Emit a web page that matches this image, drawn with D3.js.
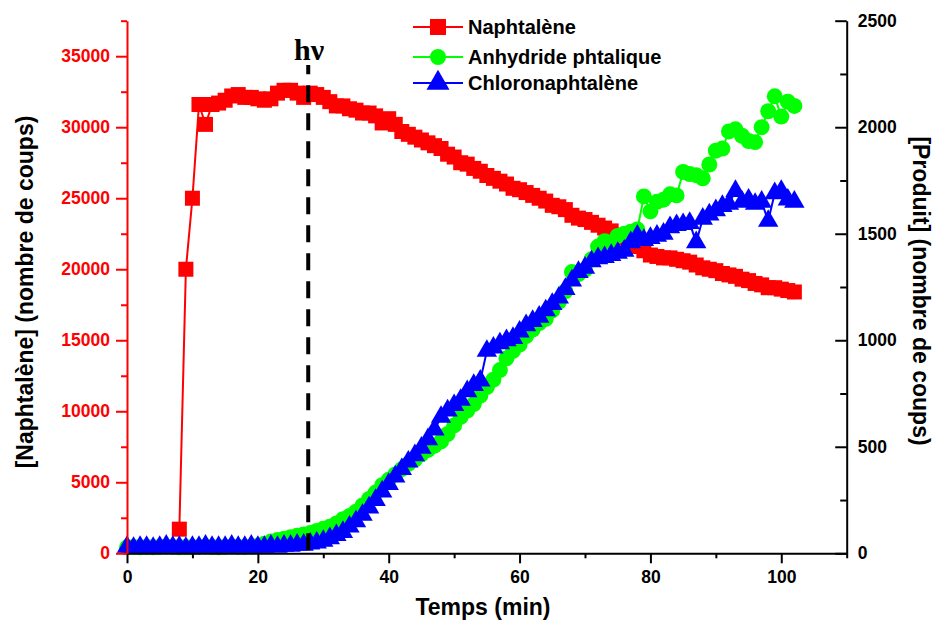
<!DOCTYPE html>
<html><head><meta charset="utf-8">
<script src="https://cdn.jsdelivr.net/npm/d3@7"></script>
<style>
html,body{margin:0;padding:0;background:#fff;}
svg{display:block;}
</style></head>
<body><svg id="chart" width="935" height="621"></svg>
<script>
// ---- Data ----
const timeNaph = [8,9,10,11,12,13,14,15,16,17,18,19,20,21,22,23,24,25,26,27,28,29,30,31,32,33,34,35,36,37,38,39,40,41,42,43,44,45,46,47,48,49,50,51,52,53,54,55,56,57,58,59,60,61,62,63,64,65,66,67,68,69,70,71,72,73,74,75,76,77,78,79,80,81,82,83,84,85,86,87,88,89,90,91,92,93,94,95,96,97,98,99,100,101,102];
const naphtalene = [1700,20000,25000,31600,30200,31600,31700,31900,32200,32300,32100,32100,32000,31900,32000,32400,32600,32600,32400,32100,32400,32300,32100,31800,31500,31500,31300,31200,31000,31000,30800,30300,30600,30200,29700,29500,29300,29100,28900,28700,28500,28100,27900,27500,27400,27100,26900,26600,26400,26200,26000,25700,25600,25400,25200,25000,24800,24500,24400,24200,23800,23600,23500,23300,23100,22900,22700,22400,22200,21900,21600,21300,21000,20900,20800,20800,20700,20600,20500,20300,20100,20000,19900,19700,19600,19500,19300,19200,19000,18900,18700,18700,18600,18500,18400];

const timeProd = [0,1,2,3,4,5,6,7,8,9,10,11,12,13,14,15,16,17,18,19,20,21,22,23,24,25,26,27,28,29,30,31,32,33,34,35,36,37,38,39,40,41,42,43,44,45,46,47,48,49,50,51,52,53,54,55,56,57,58,59,60,61,62,63,64,65,66,67,68,69,70,71,72,73,74,75,76,77,78,79,80,81,82,83,84,85,86,87,88,89,90,91,92,93,94,95,96,97,98,99,100,101,102];
const anhydride = [28,30,28,30,28,30,32,30,28,30,28,30,32,30,28,30,32,30,30,32,35,45,55,62,68,75,82,88,95,105,115,125,140,160,175,195,225,255,285,320,345,370,395,420,440,465,485,505,525,560,600,640,670,700,740,780,815,860,915,950,980,1020,1050,1080,1100,1140,1180,1230,1320,1310,1330,1380,1440,1465,1460,1490,1500,1510,1520,1675,1605,1650,1660,1685,1680,1790,1780,1775,1760,1825,1890,1900,1980,1990,1960,1935,1930,2000,2075,2145,2050,2120,2100];
const chloro = [30,25,30,30,25,30,35,30,30,25,30,30,35,30,30,30,35,30,30,35,30,30,35,30,35,35,40,40,45,50,58,70,85,100,125,150,180,215,250,290,325,360,395,430,460,495,535,580,640,670,695,720,760,790,810,950,965,985,1000,1010,1040,1070,1090,1110,1140,1170,1200,1240,1280,1320,1340,1370,1385,1390,1400,1410,1420,1460,1490,1470,1480,1490,1500,1530,1540,1545,1550,1460,1570,1590,1610,1630,1640,1700,1650,1660,1640,1650,1560,1690,1700,1660,1650];

const xTicks = [0,20,40,60,80,100];
const xMinor = [10,30,50,70,90,110];
const yLeftTicks = [0,5000,10000,15000,20000,25000,30000,35000];
const yLeftMinor = [2500,7500,12500,17500,22500,27500,32500,37500];
const yRightTicks = [0,500,1000,1500,2000,2500];
const yRightMinor = [250,750,1250,1750,2250];
const seriesNames = ["Naphtalène","Anhydride phtalique","Chloronaphtalène"];
const irradiationTime = [27.7];

// ---- Scales ----
const L = 127, R = 846.7, T = 20.7, B = 553.3;
const SANS = "'Liberation Sans',Arial,Helvetica,sans-serif";
const SERIF = "'Liberation Serif','Times New Roman',serif";
const svg = d3.select("#chart");
const x = d3.scaleLinear().domain([0,110]).range([L,R]);
const yL = d3.scaleLinear().domain([0,37500]).range([B,T]);
const yR = d3.scaleLinear().domain([0,2500]).range([B,T]);

const RED="#ff0000", GREEN="#00ff00", BLUE="#0000ff";

// ---- Series ----
const naphData = timeNaph.map((t,i)=>[t,naphtalene[i]]);
const anhData = timeProd.map((t,i)=>[t,anhydride[i]]);
const chlData = timeProd.map((t,i)=>[t,chloro[i]]);

function drawSeries(data, yScale, color, symbol, size){
  const g = svg.append("g");
  g.append("path").datum(data)
    .attr("fill","none").attr("stroke",color).attr("stroke-width",2)
    .attr("d", d3.line().x(d=>x(d[0])).y(d=>yScale(d[1])));
  g.selectAll("path.m").data(data).join("path").attr("class","m")
    .attr("transform",d=>`translate(${x(d[0])},${yScale(d[1])})`)
    .attr("d", d3.symbol().type(symbol).size(size)())
    .attr("fill",color);
}
drawSeries(naphData, yL, RED, d3.symbolSquare, 225);
drawSeries(anhData, yR, GREEN, d3.symbolCircle, 200);
drawSeries(chlData, yR, BLUE, d3.symbolTriangle, 180);

// ---- Axes ----
const fmt = d3.format("d");
const fontSize = "17.5px";

const gx = svg.append("g").attr("transform",`translate(0,${B})`)
  .call(d3.axisBottom(x).tickValues(xTicks).tickFormat(fmt).tickSizeInner(10).tickSizeOuter(0).tickPadding(7));
svg.append("g").attr("transform",`translate(0,${B})`)
  .call(d3.axisBottom(x).tickValues(xMinor).tickFormat("").tickSizeInner(5).tickSizeOuter(0))
  .select(".domain").remove();
const gl = svg.append("g").attr("transform",`translate(${L},0)`)
  .call(d3.axisLeft(yL).tickValues(yLeftTicks).tickFormat(fmt).tickSizeInner(11).tickSizeOuter(0).tickPadding(6));
const glm = svg.append("g").attr("transform",`translate(${L},0)`)
  .call(d3.axisLeft(yL).tickValues(yLeftMinor).tickFormat("").tickSizeInner(6).tickSizeOuter(0));
glm.select(".domain").remove();
const gr = svg.append("g").attr("transform",`translate(${R},0)`)
  .call(d3.axisRight(yR).tickValues(yRightTicks).tickFormat(fmt).tickSizeInner(-11.5).tickSizeOuter(0).tickPadding(11));
const grm = svg.append("g").attr("transform",`translate(${R},0)`)
  .call(d3.axisRight(yR).tickValues(yRightMinor).tickFormat("").tickSizeInner(-6.5).tickSizeOuter(0));
grm.select(".domain").remove();

svg.selectAll(".tick text").attr("font-size",fontSize).attr("font-family",SANS).attr("font-weight","bold");
svg.selectAll(".domain, .tick line").attr("stroke-width",2);
gx.selectAll(".domain,.tick line").attr("stroke","#000");
gx.selectAll("text").attr("fill","#000");
gl.selectAll(".domain,.tick line").attr("stroke",RED);
glm.selectAll(".tick line").attr("stroke",RED);
gl.selectAll("text").attr("fill",RED);
gr.selectAll(".domain,.tick line").attr("stroke","#000");
gr.selectAll("text").attr("fill","#000");

// ---- Axis titles ----
function title(sel){ return sel.attr("font-family",SANS).attr("font-weight","bold").attr("font-size","23px").attr("fill","#000"); }
title(svg.append("text")).attr("x",483).attr("y",615).attr("text-anchor","middle").text("Temps (min)");
title(svg.append("text")).attr("transform","translate(25,292) rotate(-90)").attr("dy","0.35em")
  .attr("text-anchor","middle").text("[Naphtalène] (nombre de coups)");
title(svg.append("text")).attr("transform","translate(921,291) rotate(90)").attr("dy","0.35em")
  .attr("text-anchor","middle").text("[Produit] (nombre de coups)");

// ---- Irradiation marker ----
svg.append("line").attr("x1",x(irradiationTime[0])).attr("x2",x(irradiationTime[0]))
  .attr("y1",B).attr("y2",65).attr("stroke","#000").attr("stroke-width",4)
  .attr("stroke-dasharray","17,11").attr("stroke-dashoffset",-3);
svg.append("text").attr("x",294).attr("y",60)
  .attr("font-family",SERIF).attr("font-weight","bold")
  .attr("font-size","30px").attr("fill","#000").text("hν");

// ---- Legend ----
const legendRows = [
  {name:seriesNames[0], color:RED, sym:d3.symbolSquare, size:256, y:27},
  {name:seriesNames[1], color:GREEN, sym:d3.symbolCircle, size:200, y:57},
  {name:seriesNames[2], color:BLUE, sym:d3.symbolTriangle, size:230, y:83}
];
const lg = svg.append("g");
legendRows.forEach(r=>{
  lg.append("line").attr("x1",413).attr("x2",463).attr("y1",r.y).attr("y2",r.y)
    .attr("stroke",r.color).attr("stroke-width",2);
  lg.append("path").attr("transform",`translate(438,${r.y})`)
    .attr("d",d3.symbol().type(r.sym).size(r.size)()).attr("fill",r.color);
  lg.append("text").attr("x",468).attr("y",r.y).attr("dy","0.36em")
    .attr("font-family",SANS).attr("font-weight","bold")
    .attr("font-size","20px").attr("fill","#000").text(r.name);
});
</script></body></html>
